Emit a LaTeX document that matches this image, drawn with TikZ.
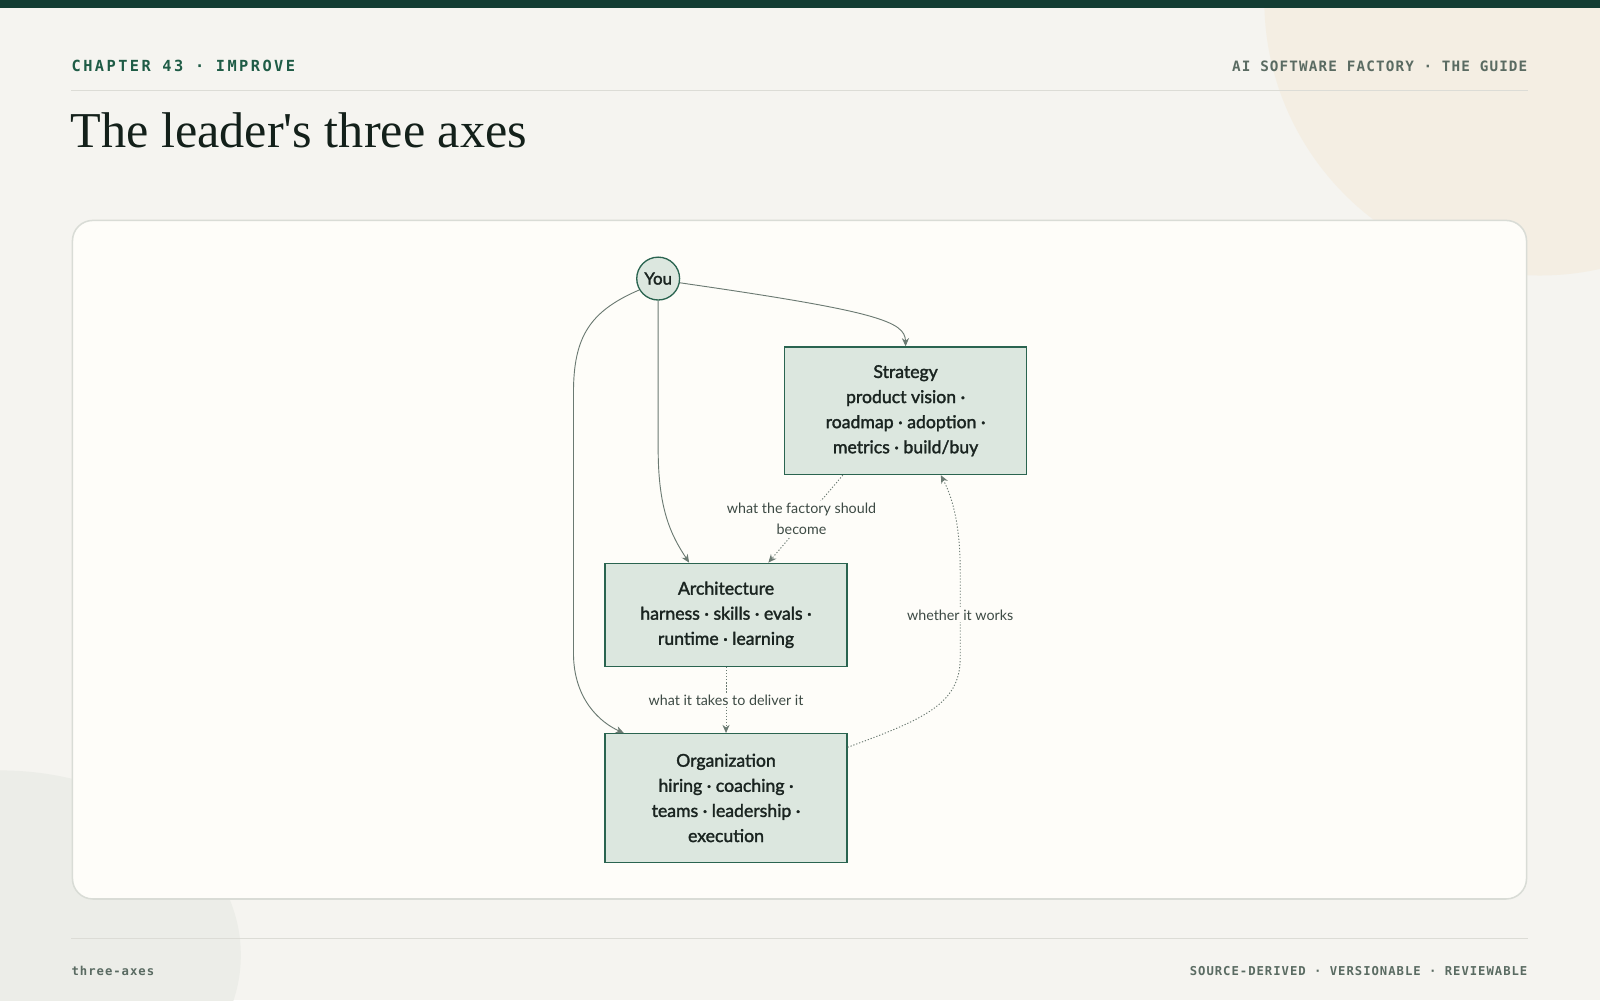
\documentclass[tikz,border=0pt]{standalone}
\usepackage{fontspec}
\setmainfont{Lato}
\newfontfamily\nodefont[FakeBold=1.8]{Lato}
\newfontfamily\lblfont{Lato}
\newfontfamily\titlefont{Liberation Serif}
\newfontfamily\hdmono[LetterSpace=16]{DejaVu Sans Mono}
\newfontfamily\hrmono[LetterSpace=8]{DejaVu Sans Mono}
\newfontfamily\ftmono[LetterSpace=8]{DejaVu Sans Mono}
\usetikzlibrary{arrows.meta,calc}
\definecolor{bg}{HTML}{F5F4F0}
\definecolor{topbar}{HTML}{133D33}
\definecolor{beige}{HTML}{F4EEE3}
\definecolor{greyc}{HTML}{ECEDE8}
\definecolor{rulec}{HTML}{DCDCD6}
\definecolor{cardfill}{HTML}{FEFDF9}
\definecolor{cardline}{HTML}{D9DCD6}
\definecolor{hdgreen}{HTML}{1F5C46}
\definecolor{hdgrey}{HTML}{5A6B62}
\definecolor{titleink}{HTML}{13201A}
\definecolor{boxfill}{HTML}{DCE7DF}
\definecolor{boxline}{HTML}{2A6450}
\definecolor{edgec}{HTML}{6B7A72}
\definecolor{ink}{HTML}{1A2420}
\definecolor{lblink}{HTML}{3D4A44}
\begin{document}
\begin{tikzpicture}[x=1pt,y=-1pt,
  axisbox/.style={draw=boxline,fill=boxfill,line width=1.3pt,minimum width=237pt,
    align=center,font=\nodefont\fontsize{17.3}{24.6}\selectfont,text=ink,inner sep=0pt},
  youcirc/.style={circle,draw=boxline,fill=boxfill,line width=1.3pt,minimum size=42pt,
    inner sep=0pt,font=\nodefont\fontsize{16.5}{19}\selectfont,text=ink},
  conn/.style={draw=edgec,line width=0.9pt,-{Stealth[length=8pt,width=7pt]}},
  dotconn/.style={draw=edgec,line width=0.9pt,dash pattern=on 1.2pt off 1.8pt,-{Stealth[length=8pt,width=7pt]}},
  edgelabel/.style={fill=cardfill,text=lblink,align=center,inner sep=2pt,
    font=\lblfont\fontsize{14}{21}\selectfont},
  hdtext/.style={inner sep=0pt,font=\hdmono\bfseries\fontsize{15}{18}\selectfont,text=hdgreen},
  hdtextr/.style={inner sep=0pt,font=\hrmono\bfseries\fontsize{14}{16}\selectfont,text=hdgrey},
  fttext/.style={inner sep=0pt,font=\ftmono\bfseries\fontsize{12}{15}\selectfont,text=hdgrey}]
\useasboundingbox (0,0) rectangle (1568,980);
% background
\fill[bg] (0,0) rectangle (1568,980);
\begin{scope}
\clip (0,0) rectangle (1568,980);
\fill[beige] (1509,0) circle[radius=270];
\fill[greyc] (0,936) ellipse[x radius=236,y radius=181];
\end{scope}
\fill[topbar] (0,0) rectangle (1568,8);
% header
\node[hdtext,anchor=base west] (chap) at (70,70) {CHAPTER 43 · IMPROVE};
\node[hdtextr,anchor=base east] (guide) at (1497,70) {AI SOFTWARE FACTORY · THE GUIDE};
\draw[rulec,line width=1pt] (70,89) -- (1497,89);
\node[anchor=base west,inner sep=0pt,font=\titlefont\fontsize{49.2}{58}\selectfont,text=titleink] (title) at (69,145) {The leader's three axes};
% card
\draw[cardline,fill=cardfill,line width=1.5pt,rounded corners=20pt] (71,216) rectangle (1496,881);
% footer
\draw[rulec,line width=1pt] (70,920) -- (1497,920);
\node[fttext,anchor=base west] (slug) at (70,956) {three-axes};
\node[fttext,anchor=base east] (tags) at (1497,956) {SOURCE-DERIVED · VERSIONABLE · REVIEWABLE};
% nodes
\node[youcirc] (you) at (645,273) {You};
\node[axisbox,minimum height=125pt] (strat) at (887.5,402.5) {Strategy\\product vision ·\\roadmap · adoption ·\\metrics · build/buy};
\node[axisbox,minimum height=101pt] (arch) at (711.5,602.5) {Architecture\\harness · skills · evals ·\\runtime · learning};
\node[axisbox,minimum height=126pt] (org) at (711.5,782) {Organization\\hiring · coaching ·\\teams · leadership ·\\execution};
% solid connectors
\draw[conn] (you.-11) .. controls (860,305) and (887,315) .. (strat.north);
\draw[conn] (you.south) -- (645,440) .. controls (645,500) and (658,525) .. ($(arch.north west)+(83,0)$);
\draw[conn] (you.211) .. controls (578,305) and (562,330) .. (562,385) -- (562,640) .. controls (562,685) and (588,708) .. ($(org.north west)+(19,0)$);
% dotted connectors
\draw[dotconn] ($(strat.south)+(-61.5,0)$) -- node[edgelabel,pos=0.5,xshift=-4pt] (l1) {what the factory should\\become} ($(arch.north)+(41.5,0)$);
\draw[dotconn] (arch.south) -- node[edgelabel,pos=0.5] (l2) {what it takes to deliver it} (org.north);
\draw[dotconn] ($(org.north east)+(0,14)$) .. controls (905,705) and (941,690) .. (941,645) -- node[edgelabel,pos=0.5] (l3) {whether it works} (941,560) .. controls (941,510) and (932,485) .. ($(strat.south)+(34.5,0)$);
\end{tikzpicture}
\end{document}
